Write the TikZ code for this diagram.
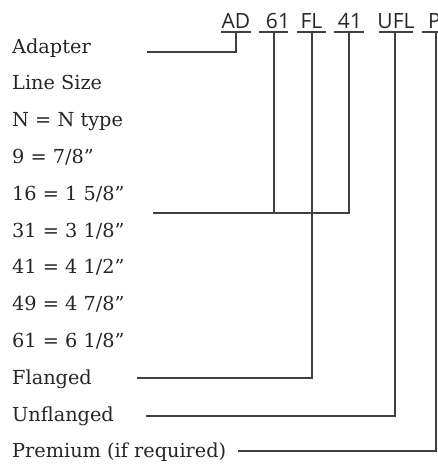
\documentclass[tikz,border=0pt]{standalone}
\usepackage{fontspec}
\setmainfont{DejaVu Serif}
\newfontfamily\codefont{Open Sans}
\begin{document}
\begin{tikzpicture}[x=1pt,y=-1pt,
  lbl/.style={anchor=base west,inner sep=0pt,font=\fontsize{19.3}{22}\selectfont,text=black!85},
  code/.style={anchor=base,inner sep=0pt,font=\codefont\fontsize{21}{24}\selectfont,text=black!85},
  conn/.style={draw=black!75,line width=1.1pt},
  uline/.style={draw=black!75,line width=1.1pt}]
\useasboundingbox (0,0) rectangle (438,464);
% header codes
\node[code] (AD) at (236,28.5) {AD};
\node[code] (s61) at (278,28.5) {61};
\node[code] (FL) at (311.5,28.5) {FL};
\node[code] (s41) at (350,28.5) {41};
\node[code] (UFL) at (396,28.5) {UFL};
\node[code,anchor=base west] (P) at (428,28.5) {P};
% underlines
\coordinate (uAD) at (236,32);
\coordinate (u61) at (274,32);
\coordinate (uFL) at (312,32);
\coordinate (u41) at (349,32);
\coordinate (uUFL) at (395,32);
\coordinate (uP) at (436,32);
\draw[uline] (221,32) -- (251,32);
\draw[uline] (259,32) -- (288,32);
\draw[uline] (297,32) -- (326,32);
\draw[uline] (334,32) -- (364,32);
\draw[uline] (379,32) -- (413,32);
\draw[uline] (422,32) -- (438,32);
% labels
\node[lbl] (l1) at (12,53) {Adapter};
\node[lbl] (l2) at (12,89.8) {Line Size};
\node[lbl] (l3) at (12,126.6) {N = N type};
\node[lbl] (l4) at (12,163.4) {9 = 7/8”};
\node[lbl] (l5) at (12,200.2) {16 = 1 5/8”};
\node[lbl] (l6) at (12,237) {31 = 3 1/8”};
\node[lbl] (l7) at (12,273.8) {41 = 4 1/2”};
\node[lbl] (l8) at (12,310.6) {49 = 4 7/8”};
\node[lbl] (l9) at (12,347.4) {61 = 6 1/8”};
\node[lbl] (l10) at (12,384.2) {Flanged};
\node[lbl] (l11) at (12,421) {Unflanged};
\node[lbl] (l12) at (12,457.8) {Premium (if required)};
% connector end points
\coordinate (eAD) at (147,52);
\coordinate (eSize) at (153,213);
\coordinate (eFL) at (137,378);
\coordinate (eUFL) at (146,416);
\coordinate (eP) at (238,451);
% connectors
\draw[conn] (uAD) |- (eAD);
\draw[conn] (u41) |- (eSize);
\draw[conn] (u61) -- (u61 |- eSize);
\draw[conn] (uFL) |- (eFL);
\draw[conn] (uUFL) |- (eUFL);
\draw[conn] (uP) |- (eP);
\end{tikzpicture}
\end{document}
